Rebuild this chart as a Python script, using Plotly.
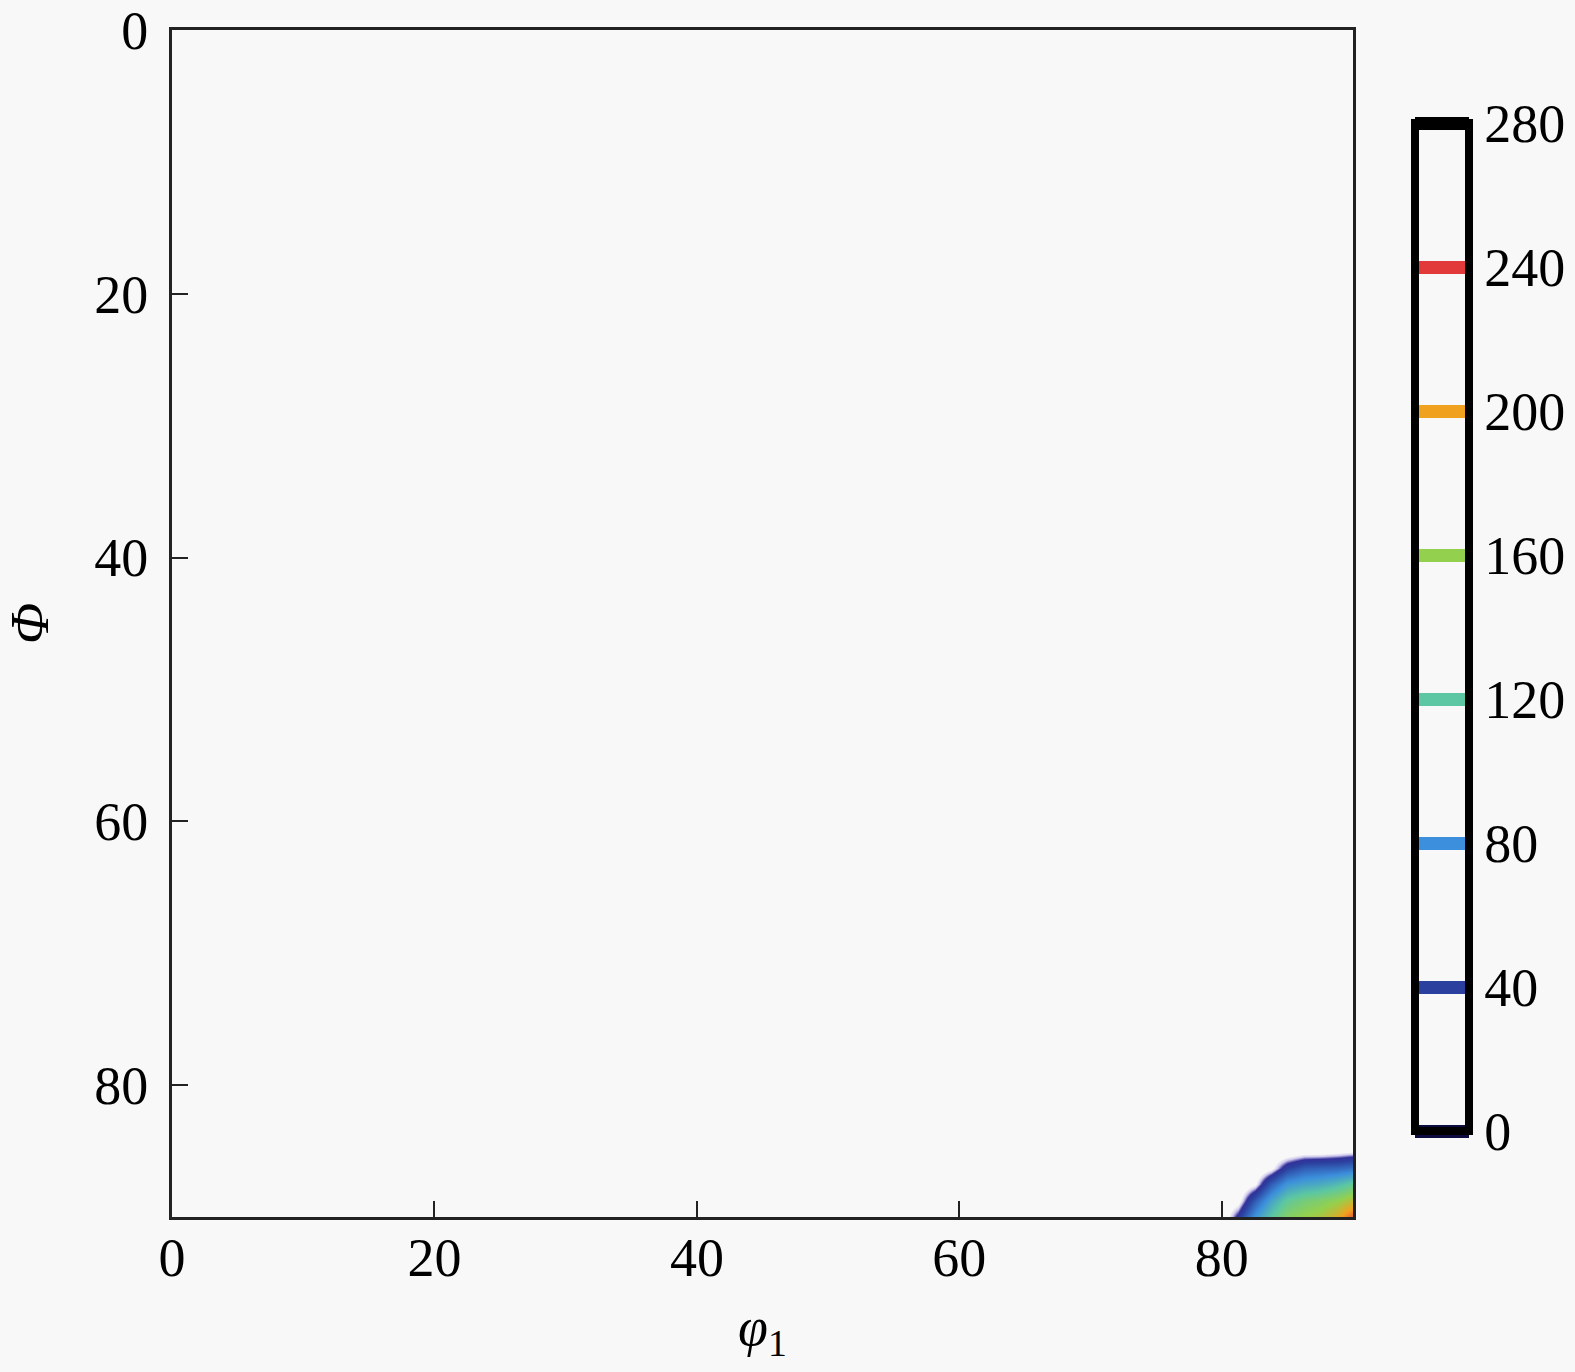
import plotly.graph_objects as go

# grid (degrees)
phi1_vals = [0, 80, 81.25, 82.5, 83.75, 85, 86.25, 87.5, 88.75, 90]
Phi_vals = [0, 83.75, 85, 86.25, 87.5, 88.75, 90]
# intensity values, rows follow Phi_vals
z_rows = [
    [0, 0, 0, 0, 0, 0, 0, 0, 0, 0],
    [0, 0, 0, 0, 0, 0, 0, 0, 0, 0],
    [0, 0, 0, 0, 0, 0, 5, 5, 8, 12],
    [0, 0, 0, 0, 10, 40, 55, 58, 60, 65],
    [0, 0, 0, 12, 55, 85, 95, 100, 110, 125],
    [0, 0, 8, 55, 95, 125, 140, 148, 160, 180],
    [0, 0, 35, 85, 120, 150, 162, 170, 192, 228],
]
levels_start, levels_end, levels_step = 0, 280, 40
x_ticks = [0, 20, 40, 60, 80]
y_ticks = [0, 20, 40, 60, 80]
cb_ticks = [0, 40, 80, 120, 160, 200, 240, 280]

BG = "#f8f8f8"
FONT = "Liberation Serif"
FS = 54

fill_scale = [
    [0.0, BG], [0.05, BG], [0.075, "#cfc8ee"], [0.105, "#33329a"], [0.143, "#2b3f9e"],
    [0.286, "#3c8fdc"], [0.429, "#5cc7a2"], [0.571, "#93d04e"],
    [0.714, "#f0a21e"], [0.857, "#e23a3a"], [1.0, "#5a0000"],
]
line_scale = [
    [0.0, "#0c0c40"], [0.143, "#2b3f9e"], [0.286, "#3c8fdc"],
    [0.429, "#5cc7a2"], [0.571, "#93d04e"], [0.714, "#f0a21e"],
    [0.857, "#e23a3a"], [1.0, "#000000"],
]

fig = go.Figure()
fig.add_trace(go.Contour(
    x=phi1_vals, y=Phi_vals, z=z_rows,
    zmin=0, zmax=280, colorscale=fill_scale,
    contours=dict(coloring="heatmap", showlines=False,
                  start=levels_start, end=levels_end, size=levels_step),
    line=dict(width=0),
    showscale=False, hoverinfo="skip",
))
fig.add_trace(go.Contour(
    x=phi1_vals, y=Phi_vals, z=z_rows,
    zmin=0, zmax=280, colorscale=line_scale,
    contours=dict(coloring="lines", start=levels_start, end=levels_end, size=levels_step),
    line=dict(width=13),
    opacity=0,
    showscale=True,
    colorbar=dict(
        x=1.0525, xanchor="left", xpad=0, ypad=0,
        y=0.497, yanchor="middle", len=1008, lenmode="pixels",
        thickness=54, thicknessmode="pixels",
        outlinewidth=8, outlinecolor="black",
        tickvals=cb_ticks, ticks="", ticklabelposition="outside",
        tickfont=dict(family=FONT, size=FS, color="black"),
        bgcolor="rgba(0,0,0,0)",
    ),
))

axis_common = dict(
    showgrid=False, zeroline=False, showline=True, linecolor="#222",
    linewidth=3, mirror=True, ticks="inside", ticklen=16, tickwidth=2,
    tickcolor="#222", tickfont=dict(family=FONT, size=FS, color="black"),
    automargin=False,
)
fig.update_xaxes(range=[0, 90], tickvals=x_ticks, ticklabelstandoff=-9,
                 title=dict(text="<i>φ</i><sub>1</sub>", font=dict(family=FONT, size=FS, color="black"), standoff=21),
                 **axis_common)
fig.update_yaxes(range=[90, 0], tickvals=y_ticks, ticklabelstandoff=10,
                 title=dict(text="<i>Φ</i>", font=dict(family=FONT, size=FS, color="black"), standoff=30),
                 **axis_common)
fig.update_layout(
    width=1575, height=1372,
    margin=dict(l=172, r=222, t=30, b=155),
    paper_bgcolor=BG, plot_bgcolor=BG,
    font=dict(family=FONT),
    showlegend=False,
)
fig.write_html("out.html", config={"displayModeBar": False},
               post_script="document.body.style.margin='0';document.body.style.background='%s';" % BG)
